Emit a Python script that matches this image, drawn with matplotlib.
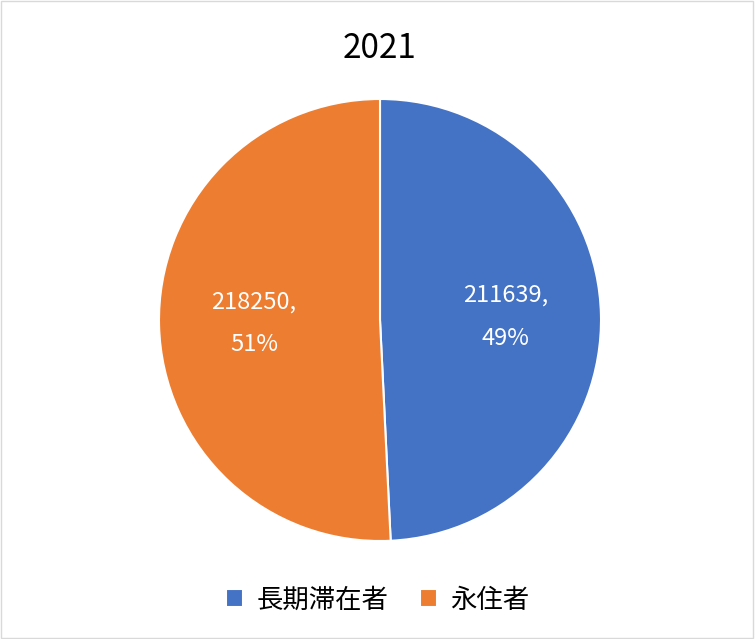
import matplotlib
matplotlib.use("Agg")
import matplotlib.pyplot as plt
from matplotlib.patches import Rectangle

plt.rcParams['font.family'] = ['Noto Sans CJK JP', 'DejaVu Sans']

categories = ['長期滞在者', '永住者']
values = [211639, 218250]
colors = ['#4472C4', '#ED7D31']
title = '2021'

fig = plt.figure(figsize=(7.55, 6.39), dpi=100)
fig.patches.append(Rectangle((0.001, 0.001), 0.997, 0.997, transform=fig.transFigure,
                             fill=False, edgecolor='#D9D9D9', linewidth=1))
w, h = 442 / 755, 442 / 639
cx, cy = 380 / 755, 1 - 320 / 639
ax = fig.add_axes([cx - w / 2, cy - h / 2, w, h])
total = sum(values)
wedges, texts = ax.pie(values, colors=colors, startangle=90, counterclock=False,
                       wedgeprops=dict(edgecolor='white', linewidth=1.5),
                       labels=[f'{v},\n{round(v / total * 100)}%' for v in values],
                       labeldistance=0.57)
for t in texts:
    t.set_color('white')
    t.set_fontsize(17)
    t.set_linespacing(2.1)
    t.set_ha('center')
    t.set_va('center')
ax.set_xlim(-1, 1)
ax.set_ylim(-1, 1)
ax.set_aspect('equal')
fig.text(cx, 1 - 48 / 639, title, ha='center', va='center', fontsize=24)
fig.legend(wedges, categories, loc='center', bbox_to_anchor=(0.5, 1 - 600 / 639),
           ncol=2, frameon=False, fontsize=19, handlelength=0.65, handleheight=0.65,
           columnspacing=1.2, handletextpad=0.5)
fig.savefig('out.png', dpi=100)
